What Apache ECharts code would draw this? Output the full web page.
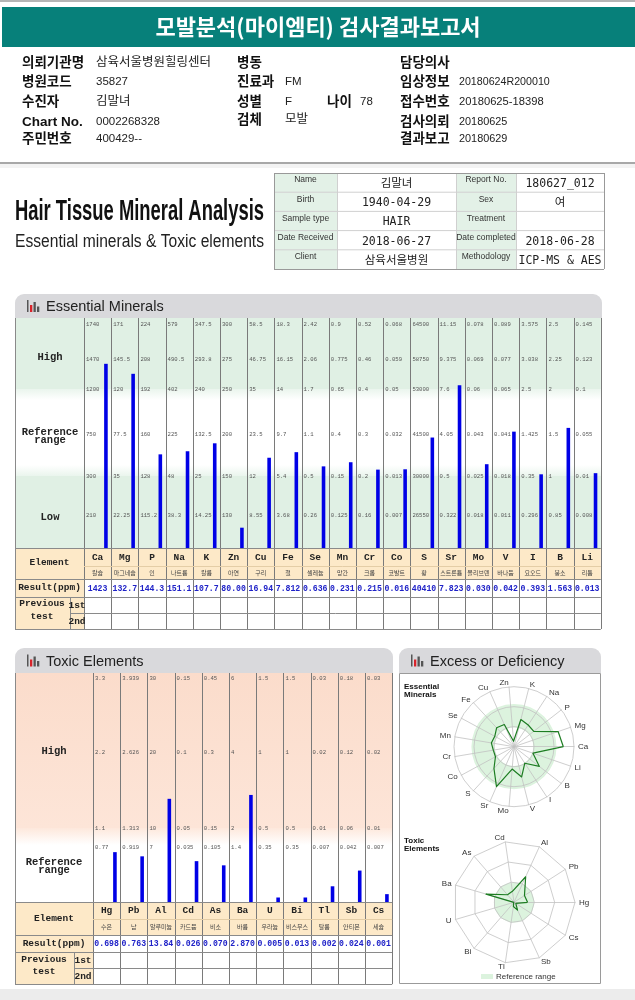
<!DOCTYPE html>
<html><head><meta charset="utf-8">
<script src="https://cdn.jsdelivr.net/npm/echarts@6/dist/echarts.min.js"></script>
<style>html,body{margin:0;padding:0;background:#fff}#c{width:635px;height:1000px}</style>
</head><body><div id="c"></div>
<script>
// ---------------- DATA ----------------
const essentialElements = ['Ca','Mg','P','Na','K','Zn','Cu','Fe','Se','Mn','Cr','Co','S','Sr','Mo','V','I','B','Li'];
const essentialKorean = ['칼슘','마그네슘','인','나트륨','칼륨','아연','구리','철','셀레늄','망간','크롬','코발트','황','스트론튬','몰리브덴','바나듐','요오드','붕소','리튬'];
const essentialResults = ['1423','132.7','144.3','151.1','107.7','80.00','16.94','7.812','0.636','0.231','0.215','0.016','40410','7.823','0.030','0.042','0.393','1.563','0.013'];
// tick values per element, bottom (low-mid) to top
const essentialTicks = [
  [210,300,750,1200,1470,1740],
  [22.25,35,77.5,120,145.5,171],
  [115.2,128,160,192,208,224],
  [38.3,48,225,402,490.5,579],
  [14.25,25,132.5,240,293.8,347.5],
  [130,150,200,250,275,300],
  [8.55,12,23.5,35,46.75,58.5],
  [3.68,5.4,9.7,14,16.15,18.3],
  [0.26,0.5,1.1,1.7,2.06,2.42],
  [0.125,0.15,0.4,0.65,0.775,0.9],
  [0.16,0.2,0.3,0.4,0.46,0.52],
  [0.007,0.013,0.032,0.05,0.059,0.068],
  [26550,30000,41500,53000,58750,64500],
  [0.322,0.5,4.05,7.6,9.375,11.15],
  [0.018,0.025,0.043,0.06,0.069,0.078],
  [0.011,0.018,0.041,0.065,0.077,0.089],
  [0.296,0.35,1.425,2.5,3.038,3.575],
  [0.85,1,1.5,2,2.25,2.5],
  [0.008,0.01,0.055,0.1,0.123,0.145]
];
const toxicElements = ['Hg','Pb','Al','Cd','As','Ba','U','Bi','Tl','Sb','Cs'];
const toxicKorean = ['수은','납','알루미늄','카드뮴','비소','바륨','우라늄','비스무스','탈륨','안티몬','세슘'];
const toxicResults = ['0.698','0.763','13.84','0.026','0.070','2.870','0.005','0.013','0.002','0.024','0.001'];
const toxicTicks = [
  [0.77,1.1,2.2,3.3],[0.919,1.313,2.626,3.939],[7,10,20,30],[0.035,0.05,0.1,0.15],
  [0.105,0.15,0.3,0.45],[1.4,2,4,6],[0.35,0.5,1,1.5],[0.35,0.5,1,1.5],
  [0.007,0.01,0.02,0.03],[0.042,0.06,0.12,0.18],[0.007,0.01,0.02,0.03]
];
const headerInfoLeft = [['의뢰기관명','삼육서울병원힐링센터'],['병원코드','35827'],['수진자','김말녀'],['Chart No.','0002268328'],['주민번호','400429--']];
const headerInfoMid = [['병동',''],['진료과','FM'],['성별','F'],['검체','모발']];
const headerInfoRight = [['담당의사',''],['임상정보','20180624R200010'],['접수번호','20180625-18398'],['검사의뢰','20180625'],['결과보고','20180629']];
const sampleTable = [
  ['Name','김말녀','Report No.','180627_012'],
  ['Birth','1940-04-29','Sex','여'],
  ['Sample type','HAIR','Treatment',''],
  ['Date Received','2018-06-27','Date completed','2018-06-28'],
  ['Client','삼육서울병원','Methodology','ICP-MS & AES']
];

// ---------------- LAYOUT / SCALE ----------------
const E_LEVELS = [33,72,114.5,159,189.5,224];
const T_LEVELS = [55,74,150,224];
const COLW = 27.2;
const E = {left:84, top:318, bottom:548, n:essentialElements.length};
const T = {left:93, top:673, bottom:902, n:toxicElements.length};
E.right = E.left + COLW*E.n; T.right = T.left + COLW*T.n;
const RE = {cx:514, cy:746.7, r:60};
const RT = {cx:514, cy:902.3, r:61};

function toPos(v, ticks, levels){
  const t=[0].concat(ticks), l=[0].concat(levels);
  for(let i=1;i<t.length;i++){ if(v<=t[i]) return l[i-1]+(v-t[i-1])/(t[i]-t[i-1])*(l[i]-l[i-1]); }
  return l[l.length-1];
}
const ePos = essentialResults.map((s,i)=>toPos(Number(s), essentialTicks[i], E_LEVELS));
const tPos = toxicResults.map((s,i)=>toPos(Number(s), toxicTicks[i], T_LEVELS));

const eTickData=[], eTickText=[];
essentialTicks.forEach((arr,i)=>arr.forEach((v,k)=>{eTickData.push([i,E_LEVELS[k]]);eTickText.push(String(v));}));
const tTickData=[], tTickText=[];
toxicTicks.forEach((arr,i)=>arr.forEach((v,k)=>{tTickData.push([i,T_LEVELS[k]]);tTickText.push(String(v));}));

// ---------------- GRAPHIC HELPERS ----------------
const G=[];
const KR='"Noto Sans CJK KR"';
const MONO='"Liberation Mono",monospace';
const mctx=document.createElement('canvas').getContext('2d');
function rect(x,y,w,h,fill,z,extra){G.push(Object.assign({type:'rect',silent:true,z:z||0,shape:{x,y,width:w,height:h},style:{fill}},extra||{}));}
function sline(x1,y1,x2,y2,stroke,z,lw){G.push({type:'line',silent:true,z:z||5,shape:{x1,y1,x2,y2},style:{stroke,lineWidth:lw||1}});}
function txt(x,y,t,o){
  o=o||{};
  const fam=o.family||'"Liberation Sans", sans-serif', size=o.size||10, wt=o.weight||'normal';
  const el={type:'text',silent:true,z:o.z||6,x,y,style:{text:t,fill:o.fill||'#222',fontSize:size,fontFamily:fam,fontWeight:wt,align:o.align||'left',textAlign:o.align||'left',verticalAlign:'middle',textVerticalAlign:'middle'}};
  if(o.fit){mctx.font=wt+' '+size+'px '+fam; const w=mctx.measureText(t).width; el.scaleX=o.fit/w;}
  G.push(el);
}
function grad(c1,c2){return new echarts.graphic.LinearGradient(0,0,0,1,[{offset:0,color:c1},{offset:1,color:c2}]);}

// top line and banner
rect(0,0,635,2,'#b5b5b5');
rect(2,7,633,40,'#07807a');
txt(318,27,'모발분석(마이엠티) 검사결과보고서',{fill:'#fff',size:22,family:KR,weight:'bold',align:'center'});
const rowY=[63,82,102,122,139];
const LBL={size:13.5,weight:'bold',family:'"Liberation Sans",'+KR,fill:'#111'};
const VAL={size:11.5,family:'"Liberation Sans",'+KR,fill:'#222'};
headerInfoLeft.forEach((r,i)=>{txt(22,rowY[i],r[0],LBL);txt(96,rowY[i],r[1],Object.assign({},VAL,{size:/[가-힣]/.test(r[1])?12.5:11.5}));});
const midY=[63,82,102,120];
headerInfoMid.forEach((r,i)=>{txt(237,midY[i],r[0],LBL);txt(285,midY[i],r[1],Object.assign({},VAL,{size:/[가-힣]/.test(r[1])?12.5:11.5}));});
txt(327,102,'나이',LBL);
txt(360,102,'78',VAL);
headerInfoRight.forEach((r,i)=>{txt(400,rowY[i],r[0],LBL);txt(459,rowY[i],r[1],Object.assign({},VAL,{fit:r[1].length*6.05}));});

// separator
rect(0,162,635,2,'#a8a8a8');
rect(0,164,635,4,'#f3f3f3');

// Hair tissue title
txt(15,212,'Hair Tissue Mineral Analysis',{size:30,weight:'bold',fill:'#111',fit:249});
txt(15,242,'Essential minerals & Toxic elements',{size:18,fill:'#222',fit:249});

// sample table
const stX=[274,337,456,516,604], stTop=173, stH=19.2;
sampleTable.forEach((r,i)=>{
  const y=stTop+i*stH;
  rect(stX[0],y,stX[1]-stX[0],stH,'#e3f1e7');
  rect(stX[2],y,stX[3]-stX[2],stH,'#e3f1e7');
  txt((stX[0]+stX[1])/2,y+7,r[0],{size:8.5,align:'center',fill:'#333'});
  txt((stX[1]+stX[2])/2,y+11,r[1],{size:11.5,align:'center',family:'"DejaVu Sans Mono",'+KR,fill:'#222'});
  txt((stX[2]+stX[3])/2,y+7,r[2],{size:8.5,align:'center',fill:'#333'});
  txt((stX[3]+stX[4])/2,y+11,r[3],{size:11.5,align:'center',family:'"DejaVu Sans Mono",'+KR,fill:'#222'});
  if(i>0) sline(stX[0],y,stX[4],y,'#d0d0d0');
});
stX.forEach((x,k)=>sline(x+0.5,stTop,x+0.5,stTop+5*stH,k==0||k==4?'#999':'#d0d0d0'));
sline(stX[0],stTop+0.5,stX[4],stTop+0.5,'#999');
sline(stX[0],stTop+5*stH+0.5,stX[4],stTop+5*stH+0.5,'#999');

// panel header helper
function panelHeader(x,y,w,h,title){
  rect(x,y,w,h,'#d9d9dc',0,{shape:{x,y,width:w,height:h,r:[9,9,0,0]}});
  const bx=x+12, by=y+h/2+6;
  rect(bx,by-12,1.5,12,'#555',6);
  rect(bx+3,by-7,2.3,7,'#d8232a',6);
  rect(bx+6.5,by-10,2.3,10,'#555',6);
  rect(bx+10,by-5.5,2.3,5.5,'#555',6);
  txt(x+31,y+h/2+1,title,{size:14.5,fill:'#222'});
}

// ---------- Essential panel ----------
panelHeader(15,294,587,24,'Essential Minerals');
const GREEN='#e0f0e4';
const eY = p => E.bottom - p;
rect(15,E.top,E.right-15,eY(E_LEVELS[3])-E.top,GREEN);
rect(15,eY(E_LEVELS[3]),E.right-15,11,'#fff',0,{style:{fill:grad('#eaf5ed','#ffffff')}});
rect(15,eY(E_LEVELS[1])-11,E.right-15,11,'#fff',0,{style:{fill:grad('#ffffff','#eaf5ed')}});
rect(15,eY(E_LEVELS[1]),E.right-15,E.bottom-eY(E_LEVELS[1]),GREEN);
const ER={el:548,ko:566,res:579,p1:597,p2:613,end:629};
const BEIGE='#fde9c8';
rect(15,ER.el,E.right-15,ER.res-ER.el,BEIGE);
rect(15,ER.res,E.left-15,ER.end-ER.res,BEIGE);
txt(50,357,'High',{size:10.5,weight:'bold',family:MONO,align:'center'});
txt(50,432,'Reference',{size:10.5,weight:'bold',family:MONO,align:'center'});
txt(50,440,'range',{size:10.5,weight:'bold',family:MONO,align:'center'});
txt(50,517,'Low',{size:10.5,weight:'bold',family:MONO,align:'center'});
txt(49.5,563,'Element',{size:9.5,weight:'bold',family:MONO,align:'center'});
txt(49.5,588,'Result(ppm)',{size:9.5,weight:'bold',family:MONO,align:'center'});
txt(42,604,'Previous',{size:9.5,weight:'bold',family:MONO,align:'center'});
txt(42,617,'test',{size:9.5,weight:'bold',family:MONO,align:'center'});
txt(77,605.5,'1st',{size:9.5,weight:'bold',family:MONO,align:'center'});
txt(77,621.5,'2nd',{size:9.5,weight:'bold',family:MONO,align:'center'});
essentialElements.forEach((s,i)=>{
  const cx=E.left+(i+0.5)*COLW;
  txt(cx,557.5,s,{size:9.5,weight:'bold',family:MONO,align:'center'});
  txt(cx,572.5,essentialKorean[i],{size:6,family:KR,align:'center',fill:'#444'});
  txt(cx,588.5,essentialResults[i],{size:8.2,weight:'bold',family:MONO,align:'center',fill:'#1f22c8'});
});
for(let i=0;i<=E.n;i++){const x=Math.round(E.left+i*COLW)+0.5; sline(x,E.top,x,ER.end,'#7a7a7a');}
sline(15.5,E.top,15.5,ER.end,'#8a8a8a');
[ER.el,ER.res,ER.p1,ER.end].forEach(y=>sline(15,y+0.5,E.right,y+0.5,'#8a8a8a'));
sline(E.left,ER.ko+0.5,E.right,ER.ko+0.5,'#e4cda6');
sline(70,ER.p2+0.5,E.right,ER.p2+0.5,'#8a8a8a');
sline(70.5,ER.p1,70.5,ER.end,'#8a8a8a');

// ---------- Toxic panel ----------
panelHeader(15,648,378,25,'Toxic Elements');
const tY = p => T.bottom - p;
rect(15,T.top,T.right-15,tY(T_LEVELS[1])-T.top,'#fff',0,{style:{fill:grad('#fbdccb','#fde5d8')}});
rect(15,tY(T_LEVELS[1]),T.right-15,17,'#fff',0,{style:{fill:grad('#fde8dc','#ffffff')}});
const TR={el:902,ko:919,res:935,p1:952,p2:968,end:984};
rect(15,TR.el,T.right-15,TR.res-TR.el,BEIGE);
rect(15,TR.res,T.left-15,TR.end-TR.res,BEIGE);
txt(54,751,'High',{size:10.5,weight:'bold',family:MONO,align:'center'});
txt(54,862,'Reference',{size:10.5,weight:'bold',family:MONO,align:'center'});
txt(54,870,'range',{size:10.5,weight:'bold',family:MONO,align:'center'});
txt(54,919,'Element',{size:9.5,weight:'bold',family:MONO,align:'center'});
txt(54,944,'Result(ppm)',{size:9.5,weight:'bold',family:MONO,align:'center'});
txt(44,960,'Previous',{size:9.5,weight:'bold',family:MONO,align:'center'});
txt(44,972,'test',{size:9.5,weight:'bold',family:MONO,align:'center'});
txt(83,961,'1st',{size:9.5,weight:'bold',family:MONO,align:'center'});
txt(83,977,'2nd',{size:9.5,weight:'bold',family:MONO,align:'center'});
toxicElements.forEach((s,i)=>{
  const cx=T.left+(i+0.5)*COLW;
  txt(cx,911,s,{size:9.5,weight:'bold',family:MONO,align:'center'});
  txt(cx,927,toxicKorean[i],{size:6,family:KR,align:'center',fill:'#444'});
  txt(cx,944,toxicResults[i],{size:8.2,weight:'bold',family:MONO,align:'center',fill:'#1f22c8'});
});
for(let i=0;i<=T.n;i++){const x=Math.round(T.left+i*COLW)+0.5; sline(x,T.top,x,TR.end,'#7a7a7a');}
sline(15.5,T.top,15.5,TR.end,'#8a8a8a');
[TR.el,TR.res,TR.p1,TR.end].forEach(y=>sline(15,y+0.5,T.right,y+0.5,'#8a8a8a'));
sline(T.left,TR.ko+0.5,T.right,TR.ko+0.5,'#e4cda6');
sline(74,TR.p2+0.5,T.right,TR.p2+0.5,'#8a8a8a');
sline(74.5,TR.p1,74.5,TR.end,'#8a8a8a');

// ---------- Radar panel ----------
panelHeader(399,648,202,25,'Excess or Deficiency');
G.push({type:'rect',silent:true,z:5,shape:{x:399.5,y:673.5,width:201,height:310},style:{fill:'none',stroke:'#9a9a9a',lineWidth:1}});
// reference-range bands behind the radar grids
G.push({type:'ring',silent:true,z:0,shape:{cx:RE.cx,cy:RE.cy,r:RE.r*E_LEVELS[3]/E_LEVELS[5],r0:RE.r*E_LEVELS[1]/E_LEVELS[5]},style:{fill:'#dcf3de'}});
G.push({type:'circle',silent:true,z:0,shape:{cx:RT.cx,cy:RT.cy,r:RT.r*T_LEVELS[1]/T_LEVELS[3]},style:{fill:'#dcf3de'}});
txt(404,687,'Essential',{size:8,weight:'bold',fill:'#111'});
txt(404,695,'Minerals',{size:8,weight:'bold',fill:'#111'});
txt(404,841,'Toxic',{size:8,weight:'bold',fill:'#111'});
txt(404,849,'Elements',{size:8,weight:'bold',fill:'#111'});
rect(481,974,12,5,'#dcf3de',6);
txt(496,977,'Reference range',{size:8,fill:'#333'});
rect(0,989,635,11,'#ececec');

// ---------------- SERIES ----------------
function barItem(params, api){
  const i=api.value(0), v=api.value(1);
  const top=api.coord([i,v]), base=api.coord([i,0]);
  const cw=api.size([1,0])[0];
  let h=base[1]-top[1]; if(h<4.5) h=4.5;
  return {type:'rect',shape:{x:top[0]+cw*0.24,y:base[1]-h,width:3.6,height:h},style:{fill:'#0000e6'}};
}
function tickItemFactory(texts){
  return function(params, api){
    const c=api.coord([api.value(0),api.value(1)]);
    const cw=api.size([1,0])[0];
    return {type:'text',x:c[0]-cw/2+2,y:c[1]+1,style:{text:texts[params.dataIndex],fill:'#555',fontSize:5.6,fontFamily:MONO,align:'left',textAlign:'left',verticalAlign:'middle',textVerticalAlign:'middle'}};
  };
}

const radarCommon = {startAngle:0, splitNumber:3, z:3, nameGap:4,
  axisName:{color:'#333',fontSize:8,fontFamily:'"Liberation Sans", sans-serif'},
  axisLine:{lineStyle:{color:'#c2c2c2',width:0.8}}, splitLine:{lineStyle:{color:'#c2c2c2',width:0.8}}, splitArea:{show:false}};

const option = {
  animation:false,
  graphic:{elements:G},
  grid:[
    {left:E.left, top:E.top, width:COLW*E.n, height:E.bottom-E.top},
    {left:T.left, top:T.top, width:COLW*T.n, height:T.bottom-T.top}
  ],
  xAxis:[
    {gridIndex:0, type:'category', data:essentialElements, show:false},
    {gridIndex:1, type:'category', data:toxicElements, show:false}
  ],
  yAxis:[
    {gridIndex:0, type:'value', min:0, max:E.bottom-E.top, show:false},
    {gridIndex:1, type:'value', min:0, max:T.bottom-T.top, show:false}
  ],
  radar:[
    Object.assign({center:[RE.cx,RE.cy], radius:RE.r, shape:'circle',
      indicator: essentialElements.map(n=>({name:n, max:E_LEVELS[5]}))}, radarCommon),
    Object.assign({center:[RT.cx,RT.cy], radius:RT.r, shape:'polygon',
      indicator: toxicElements.map(n=>({name:n, max:T_LEVELS[3]}))}, radarCommon)
  ],
  series:[
    {type:'custom', xAxisIndex:0, yAxisIndex:0, z:3, renderItem:tickItemFactory(eTickText), data:eTickData, silent:true},
    {type:'custom', xAxisIndex:0, yAxisIndex:0, z:4, renderItem:barItem, data:ePos.map((p,i)=>[i,p]), silent:true},
    {type:'custom', xAxisIndex:1, yAxisIndex:1, z:3, renderItem:tickItemFactory(tTickText), data:tTickData, silent:true},
    {type:'custom', xAxisIndex:1, yAxisIndex:1, z:4, renderItem:barItem, data:tPos.map((p,i)=>[i,p]), silent:true},
    {type:'radar', radarIndex:0, z:4, symbol:'none', silent:true, data:[
      {value:ePos, lineStyle:{color:'#1d7d22',width:1.2}}
    ]},
    {type:'radar', radarIndex:1, z:4, symbol:'none', silent:true, data:[
      {value:tPos, lineStyle:{color:'#1d7d22',width:1.2}}
    ]}
  ]
};
const chart = echarts.init(document.getElementById('c'), null, {renderer:'canvas', width:635, height:1000});
chart.setOption(option);
</script>
</body></html>
